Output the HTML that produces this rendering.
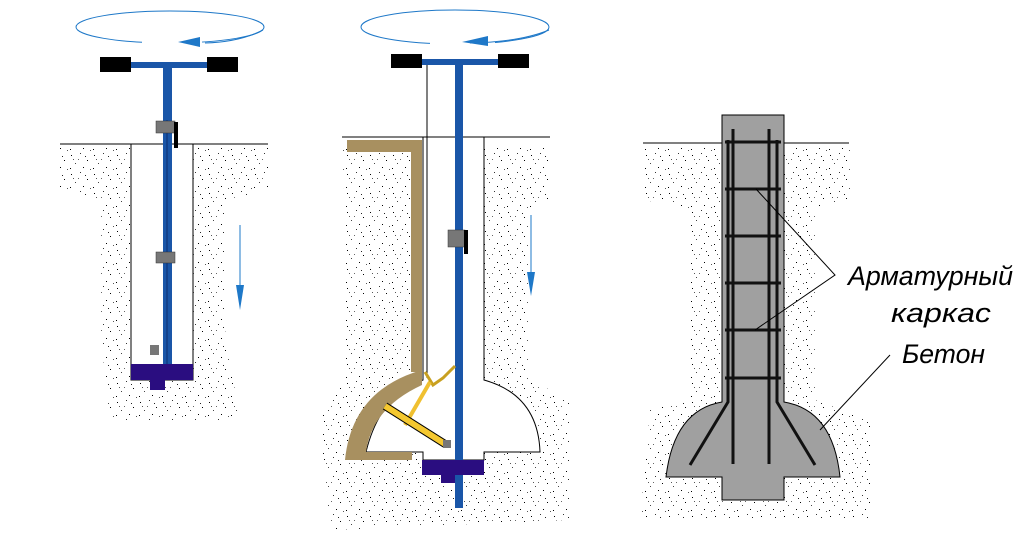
<!DOCTYPE html>
<html><head><meta charset="utf-8"><style>html,body{margin:0;padding:0;background:#fff}svg{display:block}</style></head>
<body>
<svg width="1022" height="551" viewBox="0 0 1022 551" xmlns="http://www.w3.org/2000/svg">
<defs>
<pattern id="st" width="23" height="19" patternUnits="userSpaceOnUse">
<rect x="2" y="3" width="1" height="1" fill="#000"/><rect x="11" y="1" width="1" height="1" fill="#333"/>
<rect x="18" y="8" width="1" height="1" fill="#000"/><rect x="6" y="11" width="1" height="1" fill="#444"/>
<rect x="14" y="15" width="1" height="1" fill="#000"/><rect x="21" y="17" width="1" height="1" fill="#555"/>
<rect x="9" y="7" width="1" height="1" fill="#666"/><rect x="1" y="16" width="1" height="1" fill="#000"/>
<rect x="16" y="4" width="1" height="1" fill="#222"/><rect x="4" y="7" width="1" height="1" fill="#555"/>
</pattern>
</defs>
<g fill="url(#st)">
<path d="M60 145 H268 V190 L225 200 V330 L240 420 H110 L100 330 V200 L60 190 Z"/>
<path d="M340 145 H550 V200 L530 210 V380 L570 400 L570 520 L330 530 L320 420 L345 380 V200 Z"/>
<path d="M645 145 H850 V200 L815 210 V400 L870 420 L870 520 L640 520 L650 410 L690 400 V210 L645 200 Z"/>
</g>
<!-- fig1 -->
<ellipse cx="170" cy="27" rx="94" ry="16" fill="none" stroke="#1e78c8" stroke-width="1"/>
<rect x="142" y="36" width="60" height="12" fill="#fff"/>
<path d="M205 43 Q240 42 263 30" fill="none" stroke="#1e78c8"/>
<polygon points="178,42 200,37 200,47" fill="#1e78c8"/>
<line x1="60" y1="144" x2="268" y2="144" stroke="#000"/>
<rect x="131" y="144" width="62" height="236" fill="#fff" stroke="#000"/>
<rect x="100" y="57" width="31" height="15" fill="#000"/><rect x="207" y="57" width="31" height="15" fill="#000"/>
<rect x="131" y="62" width="76" height="6" fill="#1a56a8"/>
<rect x="163" y="68" width="9" height="310" fill="#1a56a8"/>
<line x1="167" y1="120" x2="167" y2="378" stroke="#0c2e70"/>
<rect x="156" y="121" width="19" height="12" fill="#777" stroke="#333" stroke-width=".5"/>
<rect x="174" y="122" width="4" height="26" fill="#000"/>
<rect x="156" y="252" width="19" height="11" fill="#777" stroke="#333" stroke-width=".5"/>
<rect x="150" y="345" width="9" height="10" fill="#777"/>
<rect x="131" y="364" width="62" height="16" fill="#2a0d80"/>
<rect x="150" y="380" width="15" height="10" fill="#2a0d80"/>
<line x1="240" y1="225" x2="240" y2="300" stroke="#1e78c8"/>
<polygon points="236,285 244,285 240,310" fill="#1e78c8"/>
<!-- fig2 -->
<ellipse cx="455" cy="27" rx="94" ry="17" fill="none" stroke="#1e78c8"/>
<rect x="430" y="36" width="65" height="12" fill="#fff"/>
<path d="M470 43 Q520 42 549 30" fill="none" stroke="#1e78c8"/>
<polygon points="462,42 488,36 488,46" fill="#1e78c8"/>
<line x1="342" y1="137" x2="550" y2="137" stroke="#000"/>
<path d="M423 137 V380 Q380 395 366 452 H423 V460 H484 V452 H540 Q538 395 484 380 V137 Z" fill="#fff" stroke="#000"/>
<line x1="427" y1="65" x2="427" y2="378" stroke="#000"/>
<path d="M347 140 H422 V372 L411 372 V152 H347 Z" fill="#a89060"/>
<path d="M422 370 Q352 390 345 460 L412 460 L412 452 L366 452 Q372 408 422 385 Z" fill="#a89060"/>
<rect x="391" y="54" width="31" height="14" fill="#000"/><rect x="498" y="54" width="31" height="14" fill="#000"/>
<rect x="422" y="59" width="76" height="6" fill="#1a56a8"/>
<rect x="455" y="65" width="8" height="443" fill="#1a56a8"/>
<rect x="448" y="230" width="17" height="17" fill="#777" stroke="#333" stroke-width=".5"/>
<rect x="464" y="230" width="4" height="24" fill="#000"/>
<polyline points="425,372 433,385 443,378 449,372 455,366" fill="none" stroke="#c8a020" stroke-width="3"/>
<line x1="430" y1="382" x2="405" y2="425" stroke="#f0c030" stroke-width="4"/>
<line x1="385" y1="406" x2="445" y2="444" stroke="#000" stroke-width="8"/>
<line x1="385" y1="406" x2="445" y2="444" stroke="#f5c830" stroke-width="6"/>
<rect x="443" y="440" width="8" height="8" fill="#777"/>
<rect x="422" y="460" width="62" height="15" fill="#2a0d80"/>
<rect x="441" y="475" width="14" height="8" fill="#2a0d80"/>
<line x1="531" y1="215" x2="531" y2="290" stroke="#1e78c8"/>
<polygon points="527,272 535,272 531,296" fill="#1e78c8"/>
<!-- fig3 -->
<line x1="643" y1="143" x2="849" y2="143" stroke="#000"/>
<path d="M722 115 H784 V402 Q833 410 840 477 H784 V500 H722 V477 H666 Q674 410 722 402 Z" fill="#a0a0a0" stroke="#000"/>
<g stroke="#111" stroke-width="3" fill="none">
<line x1="733" y1="129" x2="733" y2="464"/><line x1="769" y1="129" x2="769" y2="464"/>
<polyline points="728,140 728,402 690,465"/><polyline points="777,140 777,402 815,465"/>
<line x1="725" y1="142" x2="781" y2="142"/><line x1="725" y1="189" x2="781" y2="189"/>
<line x1="725" y1="236" x2="781" y2="236"/><line x1="725" y1="283" x2="781" y2="283"/>
<line x1="725" y1="330" x2="781" y2="330"/><line x1="725" y1="378" x2="781" y2="378"/>
</g>
<g stroke="#000" stroke-width="1" fill="none">
<polyline points="756,189 835,275 755,330"/>
<line x1="890" y1="355" x2="820" y2="430"/>
</g>
<g font-family="'Liberation Sans','DejaVu Sans',sans-serif" font-style="italic" font-size="27" fill="#000">
<text x="848" y="285" textLength="165" lengthAdjust="spacingAndGlyphs">Арматурный</text>
<text x="891" y="322" textLength="100" lengthAdjust="spacingAndGlyphs">каркас</text>
<text x="902" y="363" textLength="83" lengthAdjust="spacingAndGlyphs">Бетон</text>
</g>
</svg>
</body></html>
